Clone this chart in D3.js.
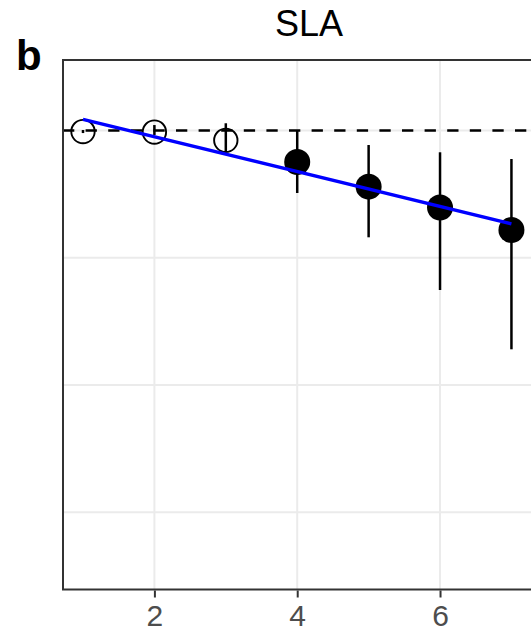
<!DOCTYPE html>
<meta charset = "utf-8">
<style>

body {
  margin: 0;
  background: #fff;
}

text {
  font-family: "Liberation Sans", Arial, sans-serif;
}

.grid line {
  stroke: #ebebeb;
  stroke-width: 2;
}

.axis-x path {
  display: none;
}

.axis-x line {
  stroke: #333;
  stroke-width: 2;
}

.axis-x text {
  fill: #4d4d4d;
  font-size: 30px;
}

</style>

<body>
</body>

<script src = "https://cdn.jsdelivr.net/npm/d3@7"></script>

<script>

// estimates per year (open = not significant)
var years = [1, 2, 3, 4, 5, 6, 7];
var estimate = [-0.008, -0.012, -0.077, -0.247, -0.441, -0.605, -0.782];
var lower = [-0.02, -0.035, -0.169, -0.491, -0.839, -1.253, -1.719];
var upper = [0.004, 0.043, 0.057, 0.004, -0.114, -0.171, -0.224];
var significant = [false, false, false, true, true, true, true];

// fitted trend
var fitX = [1, 7];
var fitY = [0.088, -0.734];

var xTicks = [2, 4, 6];
var yGrid = [-3, -2, -1, 0];

var W = 531, H = 632;
var panel = {left: 63, top: 60, right: 545, bottom: 589.5};

var svg = d3.select("body")
  .append("svg")
    .attr("width", W)
    .attr("height", H);

var x = d3.scaleLinear()
    .domain([0.72, 7.47])
    .range([panel.left, panel.right]);

var y = d3.scaleLinear()
    .domain([-3.606, 0.554])
    .range([panel.bottom, panel.top]);

//grid
var grid = svg.append("g").attr("class", "grid");

grid.selectAll(".gy")
    .data(yGrid)
    .enter()
    .append("line")
    .attr("x1", panel.left)
    .attr("x2", panel.right)
    .attr("y1", function(d) {return y(d)})
    .attr("y2", function(d) {return y(d)});

grid.selectAll(".gx")
    .data(xTicks)
    .enter()
    .append("line")
    .attr("y1", panel.top)
    .attr("y2", panel.bottom)
    .attr("x1", function(d) {return x(d)})
    .attr("x2", function(d) {return x(d)});

// zero line
svg.append("line")
    .attr("x1", panel.left)
    .attr("x2", panel.right)
    .attr("y1", y(0))
    .attr("y2", y(0))
    .style("stroke", "#000")
    .style("stroke-width", 2.7)
    .style("stroke-dasharray", "11.3 11.3");

var pts = years.map(function(d, i) {
  return {x: d, est: estimate[i], lo: lower[i], hi: upper[i], sig: significant[i]};
});

// error bars
svg.selectAll(".err")
    .data(pts)
    .enter()
    .append("line")
    .attr("x1", function(d) {return x(d.x)})
    .attr("x2", function(d) {return x(d.x)})
    .attr("y1", function(d) {return y(d.lo)})
    .attr("y2", function(d) {return y(d.hi)})
    .style("stroke", "#000")
    .style("stroke-width", 2.5);

svg.selectAll(".pt")
    .data(pts)
    .enter()
    .append("circle")
    .attr("cx", function(d) {return x(d.x)})
    .attr("cy", function(d) {return y(d.est)})
    .attr("r", function(d) {return d.sig ? 13 : 11.7})
    .style("fill", function(d) {return d.sig ? "#000" : "none"})
    .style("stroke", function(d) {return d.sig ? "none" : "#000"})
    .style("stroke-width", 1.9);

// trend line
var line = d3.line()
    .x(function(d) {return x(d[0])})
    .y(function(d) {return y(d[1])});

svg.append("path")
    .datum(fitX.map(function(d, i) {return [d, fitY[i]]}))
    .attr("d", line)
    .style("fill", "none")
    .style("stroke", "#0000ff")
    .style("stroke-width", 3.4);

// panel border
svg.append("rect")
    .attr("x", panel.left)
    .attr("y", panel.top)
    .attr("width", panel.right - panel.left)
    .attr("height", panel.bottom - panel.top)
    .style("fill", "none")
    .style("stroke", "#333")
    .style("stroke-width", 2);

// x axis
svg.append("g")
    .attr("class", "axis-x")
    .attr("transform", "translate(0," + (panel.bottom + 1) + ")")
    .call(d3.axisBottom(x).tickValues(xTicks).tickSize(7).tickPadding(7).tickFormat(d3.format("d")));

svg.select(".axis-x").selectAll("text").attr("dy", "0.71em");

// titles
svg.append("text")
    .attr("x", 309)
    .attr("y", 36)
    .attr("text-anchor", "middle")
    .style("font-size", "36px")
    .text("SLA");

svg.append("text")
    .attr("x", 16)
    .attr("y", 70)
    .style("font-size", "42px")
    .style("font-weight", "bold")
    .text("b");

</script>
